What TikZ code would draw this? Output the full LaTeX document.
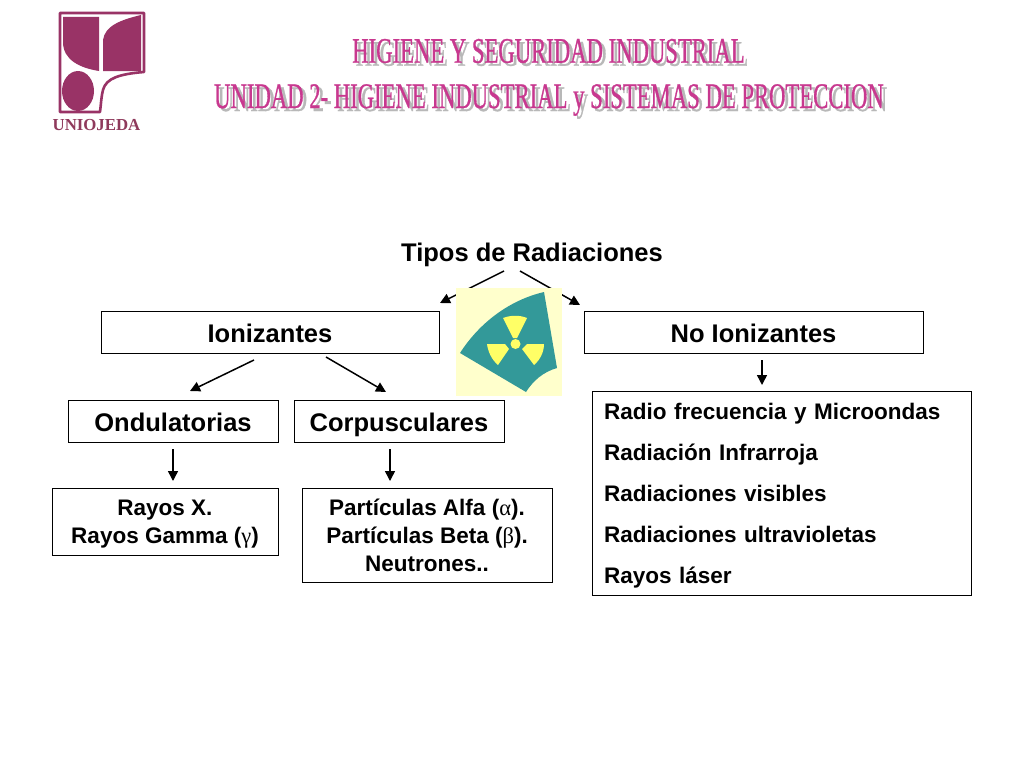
\documentclass[tikz,border=0pt]{standalone}
\usepackage{fontspec}
\setmainfont{Liberation Sans}
\newfontfamily\gk{Liberation Serif}
\newfontfamily\titlefont[FakeStretch=0.63,FakeBold=0.8]{Liberation Serif}
\usetikzlibrary{arrows.meta}
\definecolor{logo}{HTML}{993366}
\definecolor{logotxt}{HTML}{8F3A5C}
\definecolor{pinkt}{HTML}{C8388F}
\definecolor{teal2}{HTML}{339999}
\definecolor{yel}{HTML}{FFFF66}
\definecolor{pale}{HTML}{FFFFCC}
\tikzset{
  box/.style={draw=black,line width=0.9pt,fill=white,inner sep=0pt,align=center,font=\bfseries},
  big/.style={box,font=\fontsize{25.5}{28}\selectfont\bfseries,text height=24pt,text depth=4pt},
  small/.style={box,font=\fontsize{22.5}{28}\selectfont\bfseries},
  conn/.style={draw=black,line width=1.5pt,-{Triangle[length=10pt,width=10pt]}},
  titlegray/.style={text=black!28,font=\titlefont\fontsize{36}{36}\selectfont,inner sep=0pt},
  titlepink/.style={text=pinkt,font=\titlefont\fontsize{36}{36}\selectfont,inner sep=0pt}
}
\begin{document}
\begin{tikzpicture}[x=1pt,y=-1pt]
\useasboundingbox (0,0) rectangle (1024,768);
\fill[white] (0,0) rectangle (1024,768);
% logo
\draw[logo,line width=2.6pt,line join=round] (60,13) -- (144,13) -- (144,72)
  .. controls (120,74) and (106,78) .. (103,90) .. controls (101,98) and (101,105) .. (100,112) -- (60,112) -- cycle;
\fill[logo] (63,17) -- (99,17) -- (99,71) .. controls (80,68) and (63,60) .. (63,42) -- cycle;
\fill[logo] (103,71) -- (103,40) .. controls (105,26) and (120,20) .. (141,15) -- (141,71) -- cycle;
\fill[logo] (78,91) ellipse [x radius=16,y radius=20];
\node[text=logotxt,inner sep=0pt,font=\gk\fontsize{16.8}{17}\selectfont\bfseries] (logotext) at (96.5,125) {UNIOJEDA};
% title
\node[titlegray] (t1s) at (552,54) {HIGIENE Y SEGURIDAD INDUSTRIAL};
\node[titlepink] (t1) at (548.5,51) {HIGIENE Y SEGURIDAD INDUSTRIAL};
\node[titlegray] (t2s) at (552.5,103) {UNIDAD 2- HIGIENE INDUSTRIAL y SISTEMAS DE PROTECCION};
\node[titlepink] (t2) at (549,100) {UNIDAD 2- HIGIENE INDUSTRIAL y SISTEMAS DE PROTECCION};
% heading
\node[inner sep=0pt,font=\fontsize{25.5}{28}\selectfont\bfseries] (tipos) at (532,255) {Tipos de Radiaciones};
% boxes
\node[big,minimum width=338pt,minimum height=42pt] (ion) at (270,332) {Ionizantes};
\node[big,minimum width=339pt,minimum height=42pt] (noion) at (753.5,332) {No Ionizantes};
\node[big,minimum width=210pt,minimum height=42pt] (ond) at (173,421) {Ondulatorias};
\node[big,minimum width=210pt,minimum height=42pt] (cor) at (399,421) {Corpusculares};
\node[small,minimum width=226pt,minimum height=67pt] (ray) at (165,521.5) {\rule{0pt}{21pt}Rayos X.\\Rayos Gamma ({\gk\mdseries γ})};
\node[small,minimum width=250pt,minimum height=94pt] (par) at (427,535) {\rule{0pt}{18pt}Partículas Alfa ({\gk\mdseries α}).\\Partículas Beta ({\gk\mdseries β}).\\Neutrones..};
\node[box,minimum width=379pt,minimum height=204pt,text width=355pt,align=left,font=\fontsize{22.5}{41}\selectfont\bfseries] (lst) at (781.5,493) {\rule{0pt}{22pt}Radio frecuencia y Microondas\\Radiación Infrarroja\\Radiaciones visibles\\Radiaciones ultravioletas\\Rayos láser};
% free connector ends
\coordinate (a1s) at (504,271); \coordinate (a1e) at (440,303);
\coordinate (a2s) at (520,271); \coordinate (a2e) at (580,305);
\coordinate (a3s) at (254,360); \coordinate (a3e) at (190,391);
\coordinate (a4s) at (326,357); \coordinate (a4e) at (386,392);
\coordinate (a5s) at (173,449); \coordinate (a5e) at (173,481);
\coordinate (a6s) at (390,449); \coordinate (a6e) at (390,481);
\coordinate (a7s) at (762,360); \coordinate (a7e) at (762,385);
\draw[conn] (a1s) -- (a1e);
\draw[conn] (a2s) -- (a2e);
\draw[conn] (a3s) -- (a3e);
\draw[conn] (a4s) -- (a4e);
\draw[conn] (a5s) -- (a5e);
\draw[conn] (a6s) -- (a6e);
\draw[conn] (a7s) -- (a7e);
% radiation image
\fill[pale] (456,288) rectangle (562,396);
\fill[teal2] (460,353) .. controls (480,322) and (510,300) .. (544,292) -- (557,368) .. controls (543,372) and (533,381) .. (526,392) -- cycle;
\fill[yel] (503,318) .. controls (511,315) and (520,315) .. (527,318) -- (517,338) -- (513,338) -- cycle;
\fill[yel] (487,344) -- (505,344) -- (509,349) -- (498,365) .. controls (492,360) and (488,352) .. (487,344) -- cycle;
\fill[yel] (544,344) -- (527,344) -- (522,349) -- (534,365) .. controls (540,360) and (544,352) .. (544,344) -- cycle;
\fill[yel] (515.5,344) circle (5);
\end{tikzpicture}
\end{document}
